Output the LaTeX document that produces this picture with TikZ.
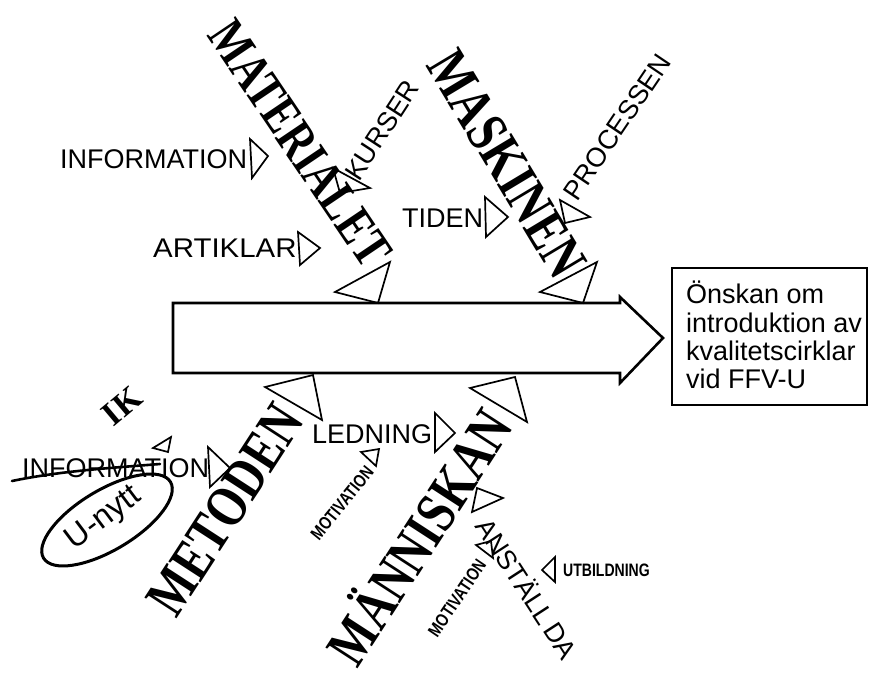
\documentclass[tikz,border=0pt]{standalone}
\usepackage{fontspec}
\usepackage{graphicx}
\setmainfont{Liberation Sans}
\newfontfamily\bigserif{Liberation Serif}
\usetikzlibrary{shapes.geometric}
\newcommand{\tallword}[1]{\scalebox{1}[1.27]{#1}}
\tikzset{
  bigword/.style={font=\bigserif\bfseries\fontsize{46}{46}\selectfont, inner sep=0pt},
  lbl/.style={font=\fontsize{27}{27}\selectfont, inner sep=0pt},
  tinylbl/.style={font=\bfseries\fontsize{18}{18}\selectfont, inner sep=0pt},
  boxtxt/.style={font=\fontsize{27}{29}\selectfont, inner sep=0pt, anchor=base west},
  tri/.style={draw, line width=1.7pt, line join=miter},
}
\begin{document}
\begin{tikzpicture}[x=1pt,y=-1pt]
\useasboundingbox (0,0) rectangle (869,674);
\fill[white] (0,0) rectangle (869,674);

% spine arrow
\draw[line width=2.6pt, line join=miter] (173,303) -- (620,303) -- (620,297) -- (663,338) -- (620,383) -- (620,373) -- (173,373) -- cycle;

% result box
\draw[line width=2pt] (672,268) rectangle (867,405);
\node[boxtxt] (b1) at (686,303) {Önskan om};
\node[boxtxt] (b2) at (686,332) {introduktion av};
\node[boxtxt] (b3) at (686,360) {kvalitetscirklar};
\node[boxtxt] (b4) at (686,388) {vid FFV-U};

% main bones (words)
\node[bigword, font=\bigserif\bfseries\fontsize{42}{42}\selectfont, rotate=-56] (mat) at (300,143) {\tallword{MATERIALET}};
\node[bigword, rotate=-59] (mas) at (507,164) {\tallword{MASKINEN}};
\node[bigword, rotate=57] (met) at (225,510) {\tallword{METODEN}};
\node[bigword, rotate=57] (man) at (416,535) {\tallword{MÄNNISKAN}};

% main bone heads
\draw[tri] (390,262) -- (335,292) -- (378,303) -- cycle;
\draw[tri] (597,262) -- (540,292) -- (583,303) -- cycle;
\draw[tri] (265,387) -- (313,375) -- (322,420) -- cycle;
\draw[tri] (470,388) -- (515,377) -- (527,422) -- cycle;

% sub-causes, top
\node[lbl, anchor=base west] (inf1) at (60,168) {INFORMATION};
\draw[tri] (250,139) -- (268,156) -- (252,178) -- cycle;
\node[lbl, anchor=base west] (art) at (153,257) {\scalebox{1.09}[1]{ARTIKLAR}};
\draw[tri] (298,232) -- (320,248) -- (300,265) -- cycle;
\node[lbl, rotate=57] (kur) at (382,130) {KURSER};
\draw[tri] (333,168) -- (370,188) -- (340,193) -- cycle;
\node[lbl, anchor=base west] (tid) at (402,227) {TIDEN};
\draw[tri] (485,197) -- (508,217) -- (486,237) -- cycle;
\node[lbl, rotate=56] (pro) at (617,127) {PROCESSEN};
\draw[tri] (560,200) -- (590,217) -- (565,223) -- cycle;

% sub-causes, bottom
\node[font=\bigserif\bfseries\fontsize{34}{34}\selectfont, inner sep=0pt, rotate=40] (ik) at (122,406) {IK};
\node[lbl, anchor=base west] (inf2) at (22,477) {INFORMATION};
\draw[line width=2.6pt, line cap=round] (12,481) .. controls (60,471) and (110,468) .. (160,464);
\draw[tri] (208,447) -- (230,468) -- (210,487) -- cycle;
\draw[tri] (153,448) -- (171,437) -- (168,452) -- cycle;
\node[draw, ellipse, line width=3pt, minimum width=148pt, minimum height=60pt, rotate=31] (ell) at (107,520) {};
\node[font=\fontsize{32}{32}\selectfont, inner sep=0pt, rotate=37] (un) at (104,519) {U-nytt};

\node[lbl, anchor=base west] (led) at (312,443) {LEDNING};
\draw[tri] (435,413) -- (455,433) -- (435,452) -- cycle;
\node[tinylbl, rotate=51] (mot1) at (342,503) {\scalebox{0.8}[1]{MOTIVATION}};
\draw[tri] (361,452) -- (379,449) -- (376,466) -- cycle;

\node[lbl, rotate=-57] (ans) at (528,588) {ANSTÄLL\,DA};
\draw[tri] (477,488) -- (503,498) -- (472,512) -- cycle;
\node[tinylbl, rotate=56] (mot2) at (457,598) {\scalebox{0.8}[1]{MOTIVATION}};
\draw[tri] (476,545) -- (491,541) -- (493,558) -- cycle;
\node[tinylbl, anchor=base west] (utb) at (563,576) {\scalebox{0.78}[1]{UTBILDNING}};
\draw[tri] (542,570) -- (555,557) -- (555,582) -- cycle;
\end{tikzpicture}
\end{document}
